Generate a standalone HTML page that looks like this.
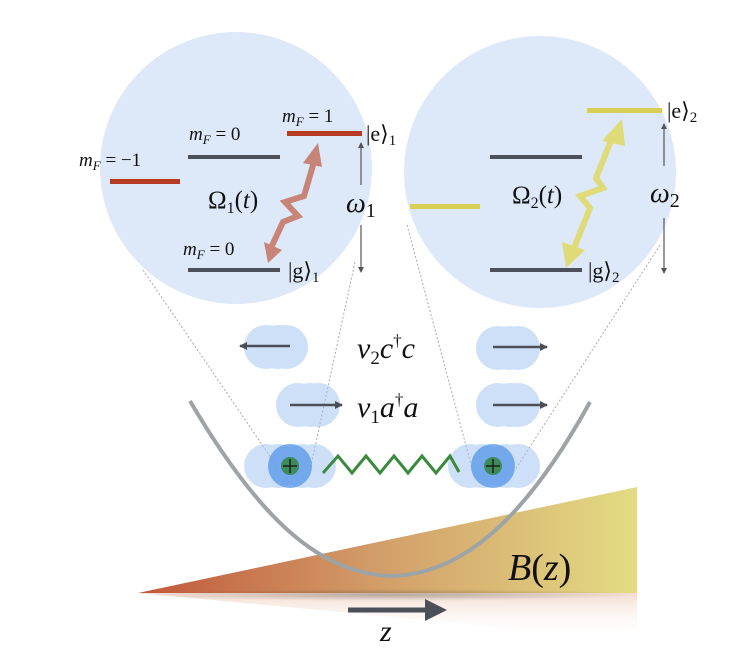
<!DOCTYPE html>
<html><head><meta charset="utf-8"><style>
html,body{margin:0;padding:0;background:#fff;}
svg{display:block;}
text{font-family:"Liberation Serif",serif;fill:#111;}
</style></head><body>
<svg width="752" height="666" viewBox="0 0 752 666" xmlns="http://www.w3.org/2000/svg">
<defs>
<linearGradient id="bg" x1="0" x2="1" y1="0" y2="0">
<stop offset="0" stop-color="#c0583a"/><stop offset="0.5" stop-color="#d3a06a"/><stop offset="1" stop-color="#e3dc84"/>
</linearGradient>
<linearGradient id="refl" x1="0" x2="0" y1="0" y2="1">
<stop offset="0" stop-color="#e8b8a0" stop-opacity="0.8"/><stop offset="1" stop-color="#fff" stop-opacity="0"/>
</linearGradient>
<radialGradient id="sh" cx="0.5" cy="0.5" r="0.5">
<stop offset="0" stop-color="#000" stop-opacity="0.25"/><stop offset="1" stop-color="#000" stop-opacity="0"/>
</radialGradient>
<marker id="ah" markerWidth="8" markerHeight="8" refX="7" refY="4" orient="auto" markerUnits="userSpaceOnUse"><path d="M0,0 L8,4 L0,8 z" fill="#4a4f58"/></marker>
<marker id="sa" markerWidth="6" markerHeight="6" refX="5" refY="3" orient="auto" markerUnits="userSpaceOnUse"><path d="M0,0 L6,3 L0,6 z" fill="#555"/></marker>
</defs>

<circle cx="236" cy="168" r="136" fill="#dde9f9"/>
<circle cx="540" cy="172" r="136" fill="#dde9f9"/>

<g stroke="#aaa" stroke-width="1" stroke-dasharray="2,2" fill="none">
<line x1="143" y1="270" x2="278" y2="468"/>
<line x1="355" y1="262" x2="310" y2="470"/>
<line x1="407" y1="225" x2="472" y2="468"/>
<line x1="660" y1="245" x2="515" y2="470"/>
</g>

<rect x="110" y="179" width="70" height="5" fill="#b83a22"/>
<rect x="188" y="155" width="92" height="4" fill="#4b505a"/>
<rect x="287" y="131" width="75" height="5" fill="#b83a22"/>
<rect x="188" y="268" width="92" height="4" fill="#4b505a"/>
<text x="79" y="166" font-size="19" font-style="italic">m<tspan font-size="13" dy="4">F</tspan><tspan font-style="normal" dy="-4" font-size="19"> = −1</tspan></text>
<text x="189" y="140" font-size="19" font-style="italic">m<tspan font-size="13" dy="4">F</tspan><tspan font-style="normal" dy="-4" font-size="19"> = 0</tspan></text>
<text x="282" y="122" font-size="19" font-style="italic">m<tspan font-size="13" dy="4">F</tspan><tspan font-style="normal" dy="-4" font-size="19"> = 1</tspan></text>
<text x="183" y="255" font-size="19" font-style="italic">m<tspan font-size="13" dy="4">F</tspan><tspan font-style="normal" dy="-4" font-size="19"> = 0</tspan></text>
<text x="366" y="141" font-size="22">|e⟩<tspan font-size="15" dy="4">1</tspan></text>
<text x="288" y="278" font-size="22">|g⟩<tspan font-size="15" dy="4">1</tspan></text>
<text x="208" y="208" font-size="25">Ω<tspan font-size="16" dy="5">1</tspan><tspan dy="-5">(</tspan><tspan font-style="italic">t</tspan>)</text>
<line x1="361" y1="185" x2="361" y2="143" stroke="#555" stroke-width="1.2" marker-end="url(#sa)"/>
<line x1="361" y1="225" x2="361" y2="272" stroke="#555" stroke-width="1.2" marker-end="url(#sa)"/>
<text x="346" y="212" font-size="28" font-style="italic">ω<tspan font-style="normal" font-size="20" dy="5">1</tspan></text>
<g fill="none" stroke="#c98478" stroke-width="6" stroke-linejoin="miter">
<polyline points="270,250 283,222 298,216 285,202 304,196 314,162"/>
</g>
<polygon points="303,163 318,143 322,167" fill="#c98478"/>
<polygon points="268,263 264,242 282,250" fill="#c98478"/>

<rect x="410" y="204" width="70" height="5" fill="#d9cf55"/>
<rect x="490" y="155" width="92" height="4" fill="#4b505a"/>
<rect x="587" y="108" width="75" height="5" fill="#d9cf55"/>
<rect x="490" y="268" width="92" height="4" fill="#4b505a"/>
<text x="667" y="118" font-size="22">|e⟩<tspan font-size="15" dy="4">2</tspan></text>
<text x="588" y="278" font-size="22">|g⟩<tspan font-size="15" dy="4">2</tspan></text>
<text x="512" y="203" font-size="25">Ω<tspan font-size="16" dy="5">2</tspan><tspan dy="-5">(</tspan><tspan font-style="italic">t</tspan>)</text>
<line x1="664" y1="166" x2="664" y2="124" stroke="#555" stroke-width="1.2" marker-end="url(#sa)"/>
<line x1="664" y1="218" x2="664" y2="273" stroke="#555" stroke-width="1.2" marker-end="url(#sa)"/>
<text x="650" y="202" font-size="28" font-style="italic">ω<tspan font-style="normal" font-size="20" dy="5">2</tspan></text>
<g fill="none" stroke="#dfdb78" stroke-width="6">
<polyline points="574,248 590,208 580,196 603,188 596,178 612,138"/>
</g>
<polygon points="602,141 622,119 625,146" fill="#dfdb78"/>
<polygon points="566,268 562,242 585,250" fill="#dfdb78"/>

<polygon points="138,593 637,487 637,593" fill="url(#bg)"/>
<polygon points="138,593 637,593 637,640" fill="url(#refl)" opacity="0.6"/>
<ellipse cx="390" cy="595" rx="250" ry="6" fill="url(#sh)"/>
<text x="508" y="580" font-size="38" font-style="italic">B<tspan font-style="normal">(</tspan>z<tspan font-style="normal">)</tspan></text>

<path d="M190,401 C260,520 320,574 392,576 C462,574 525,520 590,402" fill="none" stroke="#9ea3a5" stroke-width="4"/>

<g fill="#9fc3f2" opacity="0.5">
<circle cx="266" cy="347" r="22"/><circle cx="278" cy="347" r="22"/><circle cx="286" cy="347" r="22"/><circle cx="276" cy="347" r="16"/>
<circle cx="298" cy="405" r="22"/><circle cx="310" cy="405" r="22"/><circle cx="318" cy="405" r="22"/><circle cx="306" cy="405" r="16"/>
<circle cx="498" cy="348" r="22"/><circle cx="510" cy="348" r="22"/><circle cx="518" cy="348" r="22"/><circle cx="508" cy="348" r="16"/>
<circle cx="498" cy="405" r="22"/><circle cx="510" cy="405" r="22"/><circle cx="518" cy="405" r="22"/><circle cx="508" cy="405" r="16"/>
<circle cx="266" cy="466" r="22"/><circle cx="278" cy="466" r="22"/><circle cx="302" cy="466" r="22"/><circle cx="314" cy="466" r="22"/>
<circle cx="470" cy="466" r="22"/><circle cx="482" cy="466" r="22"/><circle cx="506" cy="466" r="22"/><circle cx="518" cy="466" r="22"/>
</g>
<circle cx="290" cy="466" r="22" fill="#5d9be8" opacity="0.8"/>
<circle cx="493" cy="466" r="22" fill="#5d9be8" opacity="0.8"/>
<circle cx="290" cy="466" r="9" fill="#3f8a5a"/>
<circle cx="493" cy="466" r="9" fill="#3f8a5a"/>
<g stroke="#111" stroke-width="1.3">
<line x1="283" y1="466" x2="297" y2="466"/><line x1="290" y1="459" x2="290" y2="473"/>
<line x1="486" y1="466" x2="500" y2="466"/><line x1="493" y1="459" x2="493" y2="473"/>
</g>
<polyline points="323,473 338,456 352,473 366,456 380,473 394,456 408,473 422,456 436,473 450,456 459,472" fill="none" stroke="#3a8a3e" stroke-width="3"/>

<g stroke="#4a4f58" stroke-width="2.5">
<line x1="290" y1="346" x2="240" y2="346" marker-end="url(#ah)"/>
<line x1="290" y1="405" x2="342" y2="405" marker-end="url(#ah)"/>
<line x1="493" y1="347" x2="547" y2="347" marker-end="url(#ah)"/>
<line x1="493" y1="405" x2="547" y2="405" marker-end="url(#ah)"/>
</g>
<text x="357" y="358" font-size="30" font-style="italic" fill="#333">ν<tspan font-style="normal" font-size="19" dy="6">2</tspan><tspan dy="-6">c</tspan><tspan font-style="normal" font-size="17" dy="-12">†</tspan><tspan dy="12">c</tspan></text>
<text x="357" y="417" font-size="30" font-style="italic" fill="#333">ν<tspan font-style="normal" font-size="19" dy="6">1</tspan><tspan dy="-6">a</tspan><tspan font-style="normal" font-size="17" dy="-12">†</tspan><tspan dy="12">a</tspan></text>

<line x1="348" y1="610" x2="428" y2="610" stroke="#4a4f58" stroke-width="5"/>
<polygon points="425,599 447,610 425,621" fill="#4a4f58"/>
<text x="380" y="641" font-size="30" font-style="italic">z</text>
</svg>
</body></html>
